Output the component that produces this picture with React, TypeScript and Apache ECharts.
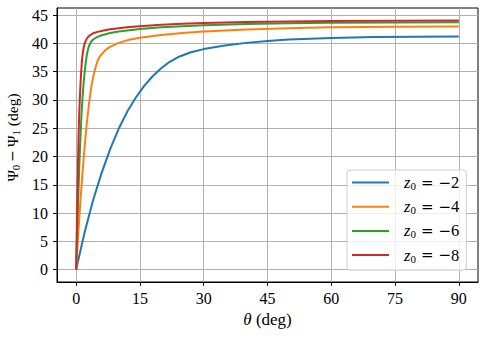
import { useEffect, useRef } from "react";
import * as echarts from "echarts";

const xTicks = [0, 15, 30, 45, 60, 75, 90];
const yTicks = [0, 5, 10, 15, 20, 25, 30, 35, 40, 45];
const seriesNames = ["z0 = −2", "z0 = −4", "z0 = −6", "z0 = −8"];
const legendValues = ["2", "4", "6", "8"];
const colors = ["#1f77b4", "#ff7f0e", "#2ca02c", "#d62728"];

const curveZ2 = [
  [0, 0], [2, 6.6], [4, 12.3], [6, 17.1], [8, 21.3], [10, 24.9], [12, 27.9],
  [14, 30.4], [16, 32.5], [18, 34.2], [20, 35.6], [22, 36.75], [24, 37.6],
  [27, 38.45], [30, 39.0], [35, 39.65], [40, 40.1], [45, 40.45], [50, 40.7],
  [60, 40.98], [70, 41.12], [80, 41.2], [90, 41.25],
];
const curveZ4 = [
  [0, 0], [0.5, 6.3], [1, 12], [1.5, 17.2], [2, 21.8], [2.5, 25.8], [3, 29.2],
  [3.5, 32.0], [4, 34.0], [4.5, 35.6], [5, 36.8], [5.5, 37.6], [6, 38.1],
  [7, 38.9], [8, 39.4], [10, 40.1], [12.5, 40.65], [15, 41.0], [20, 41.5],
  [25, 41.85], [30, 42.1], [40, 42.45], [50, 42.7], [60, 42.85], [75, 42.95], [90, 43.0],
];
const curveZ6 = [
  [0, 0], [0.25, 6.6], [0.5, 12.8], [0.75, 18.5], [1, 23.3], [1.25, 27.3],
  [1.5, 30.4], [1.75, 32.9], [2, 34.9], [2.25, 36.6], [2.5, 37.9], [2.75, 38.8],
  [3, 39.5], [3.5, 40.3], [4, 40.7], [5, 41.15], [6, 41.45], [8, 41.85],
  [10, 42.1], [12.5, 42.35], [15, 42.55], [20, 42.85], [25, 43.05], [30, 43.2],
  [40, 43.42], [50, 43.56], [60, 43.65], [75, 43.72], [90, 43.76],
];
const curveZ8 = [
  [0, 0], [0.14, 6.6], [0.28, 12.8], [0.42, 18.5], [0.56, 23.3], [0.7, 27.0],
  [0.85, 30.0], [1, 32.5], [1.15, 34.6], [1.3, 36.3], [1.45, 37.6], [1.6, 38.5],
  [1.8, 39.4], [2.1, 40.2], [2.5, 40.85], [3, 41.3], [4, 41.8], [5, 42.05],
  [6.5, 42.3], [8, 42.5], [10, 42.7], [12.5, 42.9], [15, 43.05], [20, 43.3],
  [25, 43.48], [30, 43.6], [40, 43.8], [50, 43.9], [60, 43.97], [75, 44.03], [90, 44.07],
];
const curves = [curveZ2, curveZ4, curveZ6, curveZ8];

const FONT = "'Liberation Serif', 'DejaVu Serif', serif";
const OPFONT = "'DejaVu Serif', serif";

export default function App() {
  const ref = useRef<HTMLDivElement>(null);
  useEffect(() => {
    const chart = echarts.init(ref.current!, null, { renderer: "svg" });
    const option: any = {
      animation: false,
      backgroundColor: "#fff",
      textStyle: { fontFamily: FONT, color: "#000" },
      grid: {
        left: 57, right: 10, top: 8, bottom: 57,
        outerBoundsMode: "none",
        containLabel: false,
        show: true, borderColor: "#000", borderWidth: 1, backgroundColor: "transparent",
      },
      xAxis: {
        type: "value",
        min: -4.5,
        max: 94.5,
        name: "{i|θ}{a| (deg)}",
        nameLocation: "middle",
        nameGap: 27,
        nameTextStyle: {
          fontFamily: FONT,
          rich: {
            i: { fontFamily: FONT, fontSize: 17, fontStyle: "italic", color: "#000", lineHeight: 20 },
            a: { fontFamily: FONT, fontSize: 17, color: "#000", lineHeight: 20 },
          },
        },
        axisLine: { show: true, onZero: false, lineStyle: { color: "#000", width: 1 } },
        axisTick: { show: true, inside: false, length: 4, customValues: xTicks, lineStyle: { color: "#000" } },
        axisLabel: { customValues: xTicks, fontSize: 16, color: "#000", margin: 8, fontFamily: FONT },
        splitLine: { show: true, lineStyle: { color: "#b0b0b0", width: 1 } },
      },
      yAxis: {
        type: "value",
        min: -2.2,
        max: 46.27,
        name: "{a|Ψ}{s|0}{o|−}{a|Ψ}{s|1}{a| (deg)}",
        nameLocation: "middle",
        nameRotate: 90,
        nameGap: 35,
        nameTextStyle: {
          fontFamily: FONT,
          padding: [0, 0, 0, 15],
          rich: {
            a: { fontFamily: FONT, fontSize: 15.5, color: "#000", lineHeight: 18 },
            o: { fontFamily: OPFONT, fontSize: 14, color: "#000", lineHeight: 18, padding: [0, 3, 0, 3] },
            s: { fontFamily: FONT, fontSize: 11, color: "#000", lineHeight: 10, verticalAlign: "bottom" },
          },
        },
        axisLine: { show: true, onZero: false, lineStyle: { color: "#000", width: 1 } },
        axisTick: { show: true, inside: false, length: 4, customValues: yTicks, lineStyle: { color: "#000" } },
        axisLabel: { customValues: yTicks, fontSize: 16, color: "#000", margin: 9, fontFamily: FONT },
        splitLine: { show: true, lineStyle: { color: "#b0b0b0", width: 1 } },
      },
      legend: {
        orient: "vertical",
        left: 347,
        top: 170,
        padding: [4, 7, 6, 5],
        itemGap: 6.7,
        itemWidth: 37,
        itemHeight: 2,
        icon: "rect",
        backgroundColor: "rgba(255,255,255,0.8)",
        borderColor: "#cccccc",
        borderWidth: 1,
        borderRadius: 3,
        data: seriesNames,
        formatter: (name: string) => {
          const idx = seriesNames.indexOf(name);
          return "{z|z}{s|0}{e|=}{m|−}{n|" + legendValues[idx] + "}";
        },
        textStyle: {
          fontFamily: FONT,
          padding: [0, 0, 0, 10],
          rich: {
            z: { fontFamily: FONT, fontSize: 16.5, fontStyle: "italic", color: "#000", lineHeight: 18 },
            s: { fontFamily: FONT, fontSize: 11, color: "#000", lineHeight: 10, verticalAlign: "bottom" },
            e: { fontFamily: OPFONT, fontSize: 15, color: "#000", lineHeight: 18, padding: [0, 5, 0, 5] },
            m: { fontFamily: OPFONT, fontSize: 15, color: "#000", lineHeight: 18 },
            n: { fontFamily: FONT, fontSize: 16.5, color: "#000", lineHeight: 18 },
          },
        },
      },
      series: curves.map((data, i) => ({
        name: seriesNames[i],
        type: "line",
        data,
        showSymbol: false,
        symbol: "none",
        smooth: false,
        lineStyle: { color: colors[i], width: 2 },
        itemStyle: { color: colors[i] },
        clip: true,
      })),
    };
    chart.setOption(option);
    return () => chart.dispose();
  }, []);
  return <div ref={ref} style={{ position: "fixed", left: 0, top: 0, width: 488, height: 339 }} />;
}
